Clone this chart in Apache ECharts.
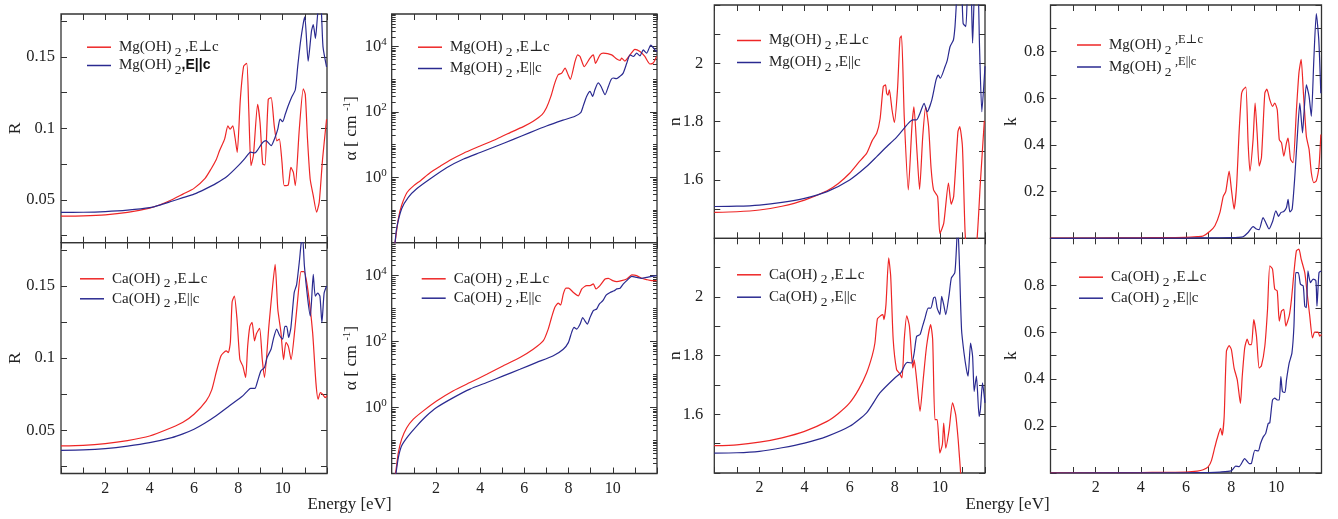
<!DOCTYPE html>
<html><head><meta charset="utf-8">
<script src="https://cdn.jsdelivr.net/npm/echarts@6/dist/echarts.min.js"></script>
<style>html,body{margin:0;padding:0;background:#fff}#c{width:1338px;height:519px}</style>
</head><body><div id="c"></div>
<script>
// ---------------- DATA (energy [eV], value) ----------------
const energyTickLabels = [2, 4, 6, 8, 10];
const rTickValues = [0.025, 0.05, 0.075, 0.1, 0.125, 0.15, 0.175];
const rTickLabels = [0.05, 0.1, 0.15];
const nTickLabels = [1.6, 1.8, 2];
const kTickLabels = [0.2, 0.4, 0.6, 0.8];
const alphaMajorTicks = [0.01, 1, 100, 10000];
const alphaLabelTicks = [1, 100, 10000];
const alphaDecades = [-2, -1, 0, 1, 2, 3, 4];

const seriesNames = {
  mgPerp: 'Mg(OH)2,E⊥c', mgPar: 'Mg(OH)2,E||c',
  caPerp: 'Ca(OH)2,E⊥c', caPar: 'Ca(OH)2,E||c'
};

// Reflectivity R
const rMgPerp = [[0,0.0386],[1,0.0388],[2,0.0395],[3,0.0412],[4,0.0442],[4.5,0.0467],[5,0.05],[5.5,0.054],[6,0.058],[6.5,0.065],[6.77,0.0716],[7,0.078],[7.15,0.0843],[7.38,0.0925],[7.53,0.1017],[7.63,0.0994],[7.75,0.1017],[7.85,0.0936],[7.95,0.0832],[8.09,0.1203],[8.24,0.1435],[8.38,0.1454],[8.47,0.1133],[8.57,0.0739],[8.68,0.081],[8.87,0.1168],[8.98,0.104],[9.1,0.075],[9.2,0.0744],[9.35,0.1203],[9.48,0.1215],[9.62,0.1017],[9.74,0.0913],[9.85,0.0925],[9.97,0.0762],[10.07,0.06],[10.25,0.0604],[10.37,0.0727],[10.48,0.0693],[10.57,0.06],[10.75,0.0994],[10.93,0.1277],[11.02,0.1238],[11.12,0.0925],[11.24,0.0646],[11.38,0.053],[11.53,0.0414],[11.65,0.0484],[11.8,0.0785],[11.98,0.1064]];
const rMgPar = [[0,0.0412],[1,0.0413],[2,0.0418],[3,0.0428],[4,0.0445],[4.5,0.0465],[5,0.049],[5.5,0.0515],[6,0.054],[6.5,0.0575],[7,0.0615],[7.5,0.0665],[8,0.0739],[8.3,0.079],[8.45,0.082],[8.55,0.0833],[8.75,0.0828],[8.85,0.0844],[9.1,0.0902],[9.25,0.0914],[9.48,0.0879],[9.63,0.0926],[9.78,0.0995],[9.88,0.1065],[10,0.1047],[10.12,0.11],[10.25,0.1158],[10.4,0.1216],[10.57,0.127],[10.68,0.1435],[10.8,0.16],[10.93,0.1735],[11,0.178],[11.15,0.147],[11.3,0.168],[11.38,0.1725],[11.48,0.163],[11.58,0.18],[11.66,0.186],[11.74,0.183],[11.82,0.157],[11.98,0.143]];
const rCaPerp = [[0,0.0391],[1,0.0395],[2,0.0407],[3,0.0428],[4,0.046],[5,0.0519],[5.5,0.0555],[6,0.0611],[6.55,0.0704],[6.8,0.078],[7,0.09],[7.22,0.1016],[7.45,0.105],[7.55,0.1038],[7.64,0.111],[7.72,0.139],[7.82,0.143],[7.94,0.127],[8.07,0.099],[8.2,0.0946],[8.33,0.0866],[8.42,0.108],[8.52,0.122],[8.62,0.1248],[8.73,0.112],[8.82,0.117],[8.96,0.1206],[9.08,0.099],[9.18,0.0866],[9.38,0.1225],[9.52,0.1456],[9.66,0.165],[9.78,0.134],[9.92,0.118],[10.04,0.099],[10.15,0.111],[10.26,0.108],[10.38,0.099],[10.55,0.12],[10.68,0.141],[10.83,0.16],[10.96,0.16],[11.13,0.148],[11.35,0.118],[11.5,0.083],[11.6,0.0715],[11.7,0.076],[11.8,0.075],[11.92,0.0726],[12,0.074]];
const rCaPar = [[0,0.0361],[1,0.0364],[2,0.0373],[3,0.039],[4,0.0414],[5,0.0449],[5.5,0.0475],[6,0.0507],[6.5,0.055],[7,0.06],[7.6,0.0669],[8,0.0715],[8.2,0.0738],[8.42,0.0773],[8.55,0.079],[8.75,0.079],[8.85,0.0831],[9.02,0.0912],[9.18,0.0935],[9.3,0.1005],[9.48,0.1063],[9.58,0.1132],[9.73,0.1201],[9.85,0.116],[10,0.1132],[10.1,0.122],[10.18,0.122],[10.27,0.1144],[10.37,0.121],[10.52,0.1454],[10.63,0.151],[10.76,0.168],[10.83,0.179],[10.9,0.184],[10.98,0.164],[11.13,0.141],[11.25,0.129],[11.38,0.158],[11.47,0.143],[11.58,0.145],[11.68,0.143],[11.77,0.1246],[11.87,0.145],[11.98,0.15]];

// Absorption coefficient alpha [cm^-1]
const aMgPerp = [[0.1,0.008],[0.15,0.01],[0.3,0.054],[0.45,0.14],[0.7,0.35],[1,0.56],[1.3,0.79],[1.75,1.4],[2.2,2.2],[2.65,3.4],[3.25,5.5],[4,9.1],[4.75,15],[5.5,26],[6,37],[6.4,52],[6.8,83],[7,135],[7.2,300],[7.38,780],[7.53,1380],[7.69,1550],[7.84,2190],[7.98,1380],[8.08,1000],[8.29,3470],[8.41,5620],[8.52,5010],[8.71,2450],[8.97,4470],[9.12,5620],[9.22,3090],[9.42,5620],[9.57,6310],[9.95,5620],[10.18,4170],[10.33,3800],[10.4,4470],[10.55,3630],[10.78,5620],[11,8320],[11.23,7080],[11.45,5010],[11.68,2950],[11.83,3160],[11.98,5010]];
const aMgPar = [[0.1,0.007],[0.15,0.01],[0.22,0.027],[0.45,0.11],[0.75,0.245],[1.13,0.447],[1.73,0.89],[2.5,2],[3.25,3.63],[4,5.75],[4.75,9.12],[5.5,14.5],[6.25,23.4],[7,37.2],[7.75,56.2],[8.29,74.1],[8.55,95.5],[8.67,158],[8.82,302],[8.97,427],[9.09,302],[9.19,479],[9.34,776],[9.47,603],[9.65,339],[9.8,603],[9.92,977],[10.02,1100],[10.17,1050],[10.32,1230],[10.47,1550],[10.63,3090],[10.78,5620],[10.93,5010],[11.08,6310],[11.23,5250],[11.38,7940],[11.53,6310],[11.72,11200],[11.91,7940],[12,7080]];
const aCaPerp = [[0.15,0.008],[0.2,0.0135],[0.3,0.0427],[0.45,0.11],[0.68,0.245],[0.98,0.447],[1.43,0.794],[2.03,1.58],[2.79,3.24],[3.54,5.75],[4.3,10.2],[5.05,18.6],[5.8,33.1],[6.4,58.9],[6.86,107],[7.08,240],[7.23,537],[7.38,1100],[7.53,1480],[7.64,1290],[7.76,2750],[7.88,4170],[8,4170],[8.22,3090],[8.44,2450],[8.6,3980],[8.82,5010],[8.97,5010],[9.12,5620],[9.24,3980],[9.42,5010],[9.65,7940],[9.8,8320],[10,7080],[10.18,6610],[10.4,7080],[10.63,7940],[10.86,10500],[11.08,10000],[11.3,8320],[11.53,7590],[11.76,7080],[11.98,7080]];
const aCaPar = [[0.15,0.0063],[0.2,0.0107],[0.3,0.0302],[0.45,0.0692],[0.75,0.138],[1.13,0.275],[1.58,0.562],[2.03,1],[2.79,2],[3.54,3.63],[4.3,5.75],[5.05,9.12],[5.8,14.5],[6.56,23.4],[7.31,37.2],[7.76,58.9],[7.99,93.3],[8.14,191],[8.25,269],[8.37,240],[8.52,339],[8.64,537],[8.74,427],[8.85,339],[8.97,537],[9.12,871],[9.27,977],[9.39,1380],[9.55,1740],[9.7,2570],[9.88,3090],[10.06,3470],[10.18,3980],[10.33,4170],[10.48,5620],[10.63,7080],[10.86,9550],[11.08,8910],[11.3,8320],[11.53,8910],[11.76,9550],[11.98,10000]];

// Refractive index n
const nMgPerp = [[0,1.489],[1,1.491],[2,1.497],[3,1.51],[4,1.531],[5,1.563],[5.5,1.588],[6,1.623],[6.4,1.66],[6.75,1.691],[7,1.735],[7.2,1.76],[7.35,1.81],[7.49,1.92],[7.59,1.926],[7.64,1.897],[7.7,1.891],[7.76,1.909],[7.88,1.84],[7.98,1.797],[8.12,1.909],[8.23,2.086],[8.3,2.094],[8.42,1.817],[8.6,1.566],[8.76,1.783],[8.85,1.851],[8.98,1.703],[9.1,1.568],[9.24,1.749],[9.37,1.851],[9.5,1.783],[9.61,1.64],[9.72,1.566],[9.9,1.543],[10,1.417],[10.17,1.451],[10.38,1.589],[10.5,1.517],[10.61,1.543],[10.8,1.765],[10.88,1.783],[11,1.714],[11.12,1.417],[11.25,1.33],[11.5,1.33],[11.65,1.4],[11.79,1.585],[11.97,1.803]];
const nMgPar = [[0,1.509],[1,1.51],[2,1.514],[3,1.523],[4,1.537],[5,1.56],[6,1.6],[6.75,1.646],[7.2,1.68],[7.64,1.714],[8,1.74],[8.23,1.76],[8.6,1.794],[8.8,1.806],[8.97,1.806],[9.12,1.829],[9.3,1.863],[9.44,1.834],[9.64,1.874],[9.83,1.943],[9.93,1.96],[10.02,1.949],[10.23,1.989],[10.33,2.011],[10.45,2.057],[10.6,2.08],[10.67,2.126],[10.72,2.19],[10.8,2.3],[10.93,2.3],[11.03,2.137],[11.15,2.126],[11.26,2.3],[11.36,2.3],[11.45,2.069],[11.57,2.3],[11.67,2.3],[11.76,2.05],[11.86,1.834],[12,1.99]];
const nCaPerp = [[0,1.493],[1,1.496],[2,1.505],[3,1.52],[4,1.542],[5,1.576],[5.5,1.603],[6,1.639],[6.4,1.685],[6.75,1.741],[7,1.8],[7.12,1.843],[7.23,1.925],[7.37,1.936],[7.47,1.94],[7.52,1.923],[7.61,1.974],[7.73,2.133],[7.82,2.07],[7.93,1.855],[8.08,1.752],[8.2,1.741],[8.32,1.724],[8.42,1.855],[8.53,1.936],[8.65,1.9],[8.8,1.758],[8.86,1.786],[8.97,1.718],[9.12,1.61],[9.26,1.718],[9.41,1.832],[9.59,1.906],[9.68,1.855],[9.78,1.582],[9.88,1.582],[10,1.468],[10.11,1.497],[10.17,1.57],[10.26,1.485],[10.41,1.548],[10.56,1.639],[10.7,1.599],[10.81,1.514],[10.91,1.411],[11.05,1.3],[12,1.3]];
const nCaPar = [[0,1.468],[1,1.469],[2,1.474],[3,1.486],[4,1.502],[5,1.525],[6,1.559],[6.75,1.605],[7.34,1.673],[8,1.724],[8.27,1.741],[8.45,1.769],[8.56,1.777],[8.75,1.775],[8.86,1.809],[8.97,1.866],[9.12,1.872],[9.23,1.9],[9.34,1.928],[9.48,1.962],[9.6,1.962],[9.72,1.997],[9.79,2],[9.88,1.962],[10,1.94],[10.08,2.002],[10.17,1.974],[10.26,1.94],[10.41,2.008],[10.51,2.065],[10.66,2.082],[10.73,2.161],[10.79,2.25],[10.86,2.127],[10.96,1.889],[11.07,1.809],[11.18,1.752],[11.25,1.73],[11.36,1.843],[11.45,1.798],[11.52,1.678],[11.62,1.73],[11.74,1.593],[11.8,1.62],[11.89,1.707],[12,1.639]];

// Extinction coefficient k
const kMgPerp = [[0,0.001],[2,0.001],[4,0.002],[5,0.003],[6,0.004],[6.5,0.007],[6.76,0.01],[7.06,0.03],[7.28,0.054],[7.5,0.11],[7.65,0.18],[7.76,0.2],[7.91,0.288],[8.01,0.21],[8.13,0.125],[8.24,0.224],[8.35,0.452],[8.46,0.62],[8.53,0.637],[8.65,0.648],[8.75,0.409],[8.83,0.288],[8.97,0.423],[9.06,0.58],[9.15,0.45],[9.24,0.31],[9.34,0.345],[9.49,0.622],[9.58,0.639],[9.71,0.594],[9.83,0.565],[9.93,0.58],[10.04,0.551],[10.13,0.423],[10.23,0.409],[10.33,0.352],[10.45,0.409],[10.52,0.43],[10.63,0.338],[10.74,0.324],[10.89,0.55],[11,0.708],[11.1,0.767],[11.2,0.622],[11.33,0.437],[11.45,0.381],[11.55,0.281],[11.66,0.239],[11.77,0.246],[11.89,0.31],[11.97,0.445]];
const kMgPar = [[0,0],[6,0.001],[7,0.002],[8,0.003],[8.3,0.004],[8.53,0.007],[8.75,0.025],[8.97,0.05],[9.12,0.04],[9.24,0.037],[9.41,0.089],[9.53,0.068],[9.68,0.04],[9.83,0.071],[9.98,0.118],[10.1,0.094],[10.2,0.11],[10.33,0.115],[10.45,0.132],[10.52,0.167],[10.6,0.113],[10.7,0.125],[10.82,0.267],[10.92,0.423],[11.04,0.58],[11.16,0.452],[11.22,0.53],[11.33,0.658],[11.45,0.608],[11.55,0.523],[11.66,0.764],[11.77,0.963],[11.88,0.85],[11.97,0.622]];
const kCaPerp = [[0,0.001],[2,0.001],[4,0.002],[5,0.003],[6,0.004],[6.5,0.008],[6.76,0.014],[6.98,0.026],[7.13,0.054],[7.28,0.111],[7.38,0.147],[7.53,0.19],[7.6,0.161],[7.69,0.24],[7.79,0.519],[7.91,0.543],[8.01,0.526],[8.13,0.447],[8.27,0.397],[8.41,0.297],[8.49,0.411],[8.6,0.533],[8.71,0.571],[8.8,0.547],[8.9,0.547],[9,0.654],[9.12,0.583],[9.24,0.447],[9.34,0.457],[9.49,0.54],[9.61,0.697],[9.71,0.883],[9.83,0.869],[9.93,0.783],[10.04,0.776],[10.13,0.647],[10.23,0.69],[10.33,0.697],[10.42,0.626],[10.57,0.669],[10.67,0.74],[10.78,0.854],[10.89,0.947],[11,0.954],[11.1,0.911],[11.26,0.854],[11.36,0.769],[11.48,0.669],[11.6,0.576],[11.7,0.6],[11.85,0.6],[11.92,0.583],[12,0.59]];
const kCaPar = [[0,0],[6,0.001],[7,0.002],[7.5,0.004],[8,0.009],[8.2,0.029],[8.35,0.027],[8.6,0.061],[8.8,0.04],[8.9,0.042],[9.05,0.097],[9.2,0.094],[9.3,0.126],[9.42,0.154],[9.53,0.169],[9.64,0.211],[9.71,0.214],[9.83,0.311],[9.93,0.319],[10.04,0.311],[10.13,0.311],[10.2,0.411],[10.27,0.347],[10.38,0.343],[10.45,0.397],[10.57,0.469],[10.69,0.511],[10.78,0.626],[10.86,0.854],[10.97,0.854],[11.07,0.804],[11.19,0.797],[11.26,0.711],[11.33,0.704],[11.4,0.861],[11.51,0.811],[11.63,0.826],[11.75,0.82],[11.8,0.711],[11.89,0.854],[11.99,0.86]];

// ---------------- LAYOUT / STYLE ----------------
const SERIF = "'Liberation Serif','DejaVu Serif',serif";
const RED = '#ee2626', BLUE = '#2a2a90', FRAME = '#333', TXT = '#222';
const COLS = [{left:61,width:266},{left:391.7,width:265.3},{left:714.3,width:270.7},{left:1050.5,width:271}];
const ROWS_A = [{top:14,height:228.7},{top:242.7,height:230.8}];
const ROWS_B = [{top:5,height:233.3},{top:238.3,height:234.7}];

const alphaMinorTicks = [];
alphaDecades.forEach(d => { for (let m = 1; m <= 9; m++) { const v = Number((m * Math.pow(10, d)).toPrecision(3)); if (alphaMajorTicks.indexOf(v) < 0) alphaMinorTicks.push(v); } });
alphaMinorTicks.push(100000);

const panels = [
  {col:0,row:0,kind:'R',red:rMgPerp,blue:rMgPar,mat:'mg',leg:{x:87,y:[51.7,70]},variant:['plain','bold']},
  {col:0,row:1,kind:'R',red:rCaPerp,blue:rCaPar,mat:'ca',leg:{x:80,y:[283.3,303.3]},variant:['plain','plain']},
  {col:1,row:0,kind:'alpha',red:aMgPerp,blue:aMgPar,mat:'mg',leg:{x:418,y:[51.7,73]},variant:['plain','plain']},
  {col:1,row:1,kind:'alpha',red:aCaPerp,blue:aCaPar,mat:'ca',leg:{x:421.7,y:[283.3,302.7]},variant:['plain','plain']},
  {col:2,row:0,kind:'n',red:nMgPerp,blue:nMgPar,mat:'mg',leg:{x:737,y:[45,67]},variant:['plain','plain']},
  {col:2,row:1,kind:'n',red:nCaPerp,blue:nCaPar,mat:'ca',leg:{x:737,y:[279.3,301.7]},variant:['plain','plain']},
  {col:3,row:0,kind:'k',red:kMgPerp,blue:kMgPar,mat:'mg',leg:{x:1077,y:[45,67]},variant:['raised','raised']},
  {col:3,row:1,kind:'k',red:kCaPerp,blue:kCaPar,mat:'ca',leg:{x:1079,y:[281.7,302.7]},variant:['plain','plain']}
];

const tickStyle = {color: FRAME, width: 1};
const labelFont = {fontFamily: SERIF, fontSize: 16.5, color: TXT};
const nameFont = {fontFamily: SERIF, fontSize: 17.5, color: TXT};

function xAxisDef(gi, position, showLabel) {
  return {gridIndex: gi, type: 'value', min: 0, max: 12, interval: 1, position,
    axisLine: {show: false, onZero: false},
    axisTick: {show: true, inside: true, length: 6, lineStyle: tickStyle},
    axisLabel: Object.assign({show: showLabel, customValues: energyTickLabels, margin: 7}, labelFont, {fontSize: 16}),
    splitLine: {show: false}};
}

function supFmt(v) { const e = Math.round(Math.log10(v)); return '{b|10}{sup|' + e + '}'; }

function yAxisDefs(p, gi) {
  const out = [];
  const common = {gridIndex: gi, axisLine: {show: false, onZero: false}, splitLine: {show: false}, nameMoveOverlap: false};
  const nameCfg = (name, gap, rich) => ({name, nameLocation: 'middle', nameRotate: 90, nameGap: gap,
    nameTextStyle: Object.assign({}, nameFont, rich ? {rich} : {})});
  ['left', 'right'].forEach(pos => {
    const main = pos === 'left';
    if (p.kind === 'R') {
      out.push(Object.assign({}, common, {type: 'value', min: 0.02, max: 0.18, position: pos,
        axisTick: {inside: true, length: 6, customValues: rTickValues, lineStyle: tickStyle},
        axisLabel: Object.assign({show: main, customValues: rTickLabels, margin: 6}, labelFont)},
        main ? nameCfg('R', 37) : {}));
    } else if (p.kind === 'n') {
      out.push(Object.assign({}, common, {type: 'value', min: 1.4, max: 2.2, interval: 0.1, position: pos,
        axisTick: {inside: true, length: 6, lineStyle: tickStyle},
        axisLabel: Object.assign({show: main, customValues: nTickLabels, margin: 11}, labelFont)},
        main ? nameCfg('n', 30) : {}));
    } else if (p.kind === 'k') {
      out.push(Object.assign({}, common, {type: 'value', min: 0, max: 1, interval: 0.1, position: pos,
        axisTick: {inside: true, length: 6, lineStyle: tickStyle},
        axisLabel: Object.assign({show: main, customValues: kTickLabels, margin: 6}, labelFont)},
        main ? nameCfg('k', 30) : {}));
    } else {
      out.push(Object.assign({}, common, {type: 'log', logBase: 10, min: 0.01, max: 100000, position: pos,
        axisTick: {inside: true, length: 7, customValues: alphaMajorTicks, lineStyle: tickStyle},
        axisLabel: Object.assign({show: main, customValues: alphaLabelTicks, margin: 5, formatter: supFmt,
          rich: {b: {fontFamily: SERIF, fontSize: 16.5, color: TXT, lineHeight: 20},
                 sup: {fontFamily: SERIF, fontSize: 11, color: TXT, lineHeight: 10, verticalAlign: 'top'}}}, labelFont)},
        main ? nameCfg('{a|α [ cm }{sup|-1}{a|]}', 30, {
          a: {fontFamily: SERIF, fontSize: 17.5, color: TXT, lineHeight: 20},
          sup: {fontFamily: SERIF, fontSize: 11, color: TXT, lineHeight: 10, verticalAlign: 'top'}}) : {}));
      out.push(Object.assign({}, common, {type: 'log', logBase: 10, min: 0.01, max: 100000, position: pos,
        axisTick: {inside: true, length: 4, customValues: alphaMinorTicks, lineStyle: tickStyle},
        axisLabel: {show: false}}));
    }
  });
  return out;
}

function legendRich() {
  return {
    a: {fontFamily: SERIF, fontSize: 15, color: TXT, lineHeight: 24},
    s: {fontFamily: SERIF, fontSize: 13.5, color: TXT, lineHeight: 10, verticalAlign: 'bottom'},
    b: {fontFamily: "'Liberation Sans',sans-serif", fontWeight: 'bold', fontSize: 14, color: '#111', lineHeight: 24},
    u: {fontFamily: SERIF, fontSize: 12.5, color: TXT, lineHeight: 14, verticalAlign: 'top'}
  };
}
function legendText(name, variant) {
  const comp = name.slice(0, 6);
  const pol = name.slice(name.indexOf(',') + 1);
  if (variant === 'bold') return '{a|' + comp + '}{s| 2}{b|,' + pol + '}';
  if (variant === 'raised') return '{a|' + comp + '}{s| 2 }{u|,' + pol + '}';
  return '{a|' + comp + '}{s| 2 }{a|,' + pol + '}';
}

const grids = [], xAxes = [], yAxes = [], series = [], legends = [];
panels.forEach((p, gi) => {
  const c = COLS[p.col];
  const r = (p.col < 2 ? ROWS_A : ROWS_B)[p.row];
  grids.push({left: c.left, top: r.top, width: c.width, height: r.height, show: true,
    borderColor: FRAME, borderWidth: 1.3, backgroundColor: 'transparent', containLabel: false, outerBoundsMode: 'none'});
  const xi = xAxes.length;
  xAxes.push(xAxisDef(gi, 'bottom', p.row === 1));
  xAxes.push(xAxisDef(gi, 'top', false));
  const yi = yAxes.length;
  yAxisDefs(p, gi).forEach(a => yAxes.push(a));
  const names = p.mat === 'mg' ? [seriesNames.mgPerp, seriesNames.mgPar] : [seriesNames.caPerp, seriesNames.caPar];
  [[names[0], p.red, RED], [names[1], p.blue, BLUE]].forEach(([nm, data, col]) => {
    series.push({type: 'line', name: nm, xAxisIndex: xi, yAxisIndex: yi, data, showSymbol: false, symbol: 'none',
      smooth: 0.2, clip: true, lineStyle: {width: 1.2, color: col}, itemStyle: {color: col}, emphasis: {disabled: true}});
  });
  names.forEach((nm, j) => {
    const variant = p.variant[j];
    legends.push({left: p.leg.x, top: p.leg.y[j] - 12, padding: 0, orient: 'vertical', icon: 'rect',
      itemWidth: 24, itemHeight: 1.5, selectedMode: false, data: [nm],
      formatter: n => legendText(n, variant),
      textStyle: {fontFamily: SERIF, fontSize: 15, color: TXT, padding: [0, 0, 0, 3], rich: legendRich()}});
  });
});

const chart = echarts.init(document.getElementById('c'));
chart.setOption({
  animation: false,
  backgroundColor: '#fff',
  grid: grids, xAxis: xAxes, yAxis: yAxes, series, legend: legends,
  graphic: [
    {type: 'text', x: 349.5, y: 505, style: {text: 'Energy [eV]', fontFamily: SERIF, fontSize: 17, fill: TXT, align: 'center', verticalAlign: 'middle'}},
    {type: 'text', x: 1007.5, y: 505, style: {text: 'Energy [eV]', fontFamily: SERIF, fontSize: 17, fill: TXT, align: 'center', verticalAlign: 'middle'}}
  ]
});
</script>
</body></html>
